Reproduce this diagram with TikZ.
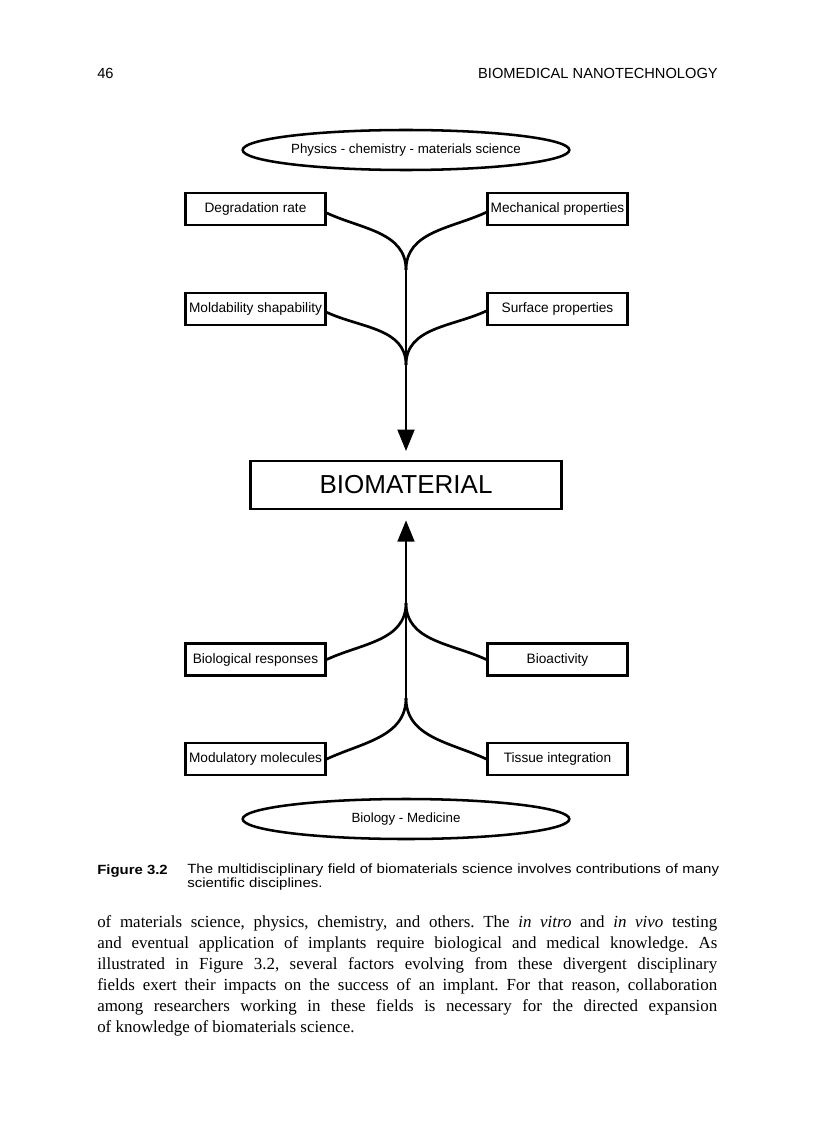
\documentclass[tikz,border=0pt]{standalone}
\usepackage{fontspec}
\setmainfont{Liberation Serif}
\setsansfont{Liberation Sans}
\usetikzlibrary{shapes.geometric,arrows.meta}

\begin{document}
\begin{tikzpicture}[x=0.75pt,y=-0.75pt,
every node/.style={font=\sffamily\fontsize{10.25}{12}\selectfont},
factor/.style={draw, line width=1.9pt, minimum width=105pt, minimum height=24pt, inner sep=2pt},
disciplina/.style={draw, ellipse, line width=1.9pt, inner sep=0pt, minimum width=245pt, minimum height=30pt, font=\sffamily\fontsize{10}{12}\selectfont},
nucleo/.style={draw, line width=1.9pt, minimum width=233pt, minimum height=36pt, font=\sffamily\fontsize{19.5}{22}\selectfont},
rama/.style={line width=2pt},
flecha/.style={line width=2pt, -{Triangle[length=16pt,width=12.5pt]}},
texto/.style={inner sep=0pt}
]
\useasboundingbox (0,0) rectangle (816,1123);
% Cabecera
\node[texto, anchor=base west, font=\sffamily\fontsize{11}{13}\selectfont] (pagina) at (97,79) {46};
\node[texto, anchor=base east, font=\sffamily\fontsize{11}{13}\selectfont] (cabecera) at (718,79) {BIOMEDICAL NANOTECHNOLOGY};
% Disciplinas
\node[disciplina] (fisica) at (406,150) {Physics - chemistry - materials science};
\node[disciplina] (biologia) at (406,819) {Biology - Medicine};
% Factores
\node[factor] (degradacion) at (255.5,209) {Degradation rate};
\node[factor] (mecanicas) at (557.5,209) {Mechanical properties};
\node[factor] (moldeo) at (255.5,309) {Moldability shapability};
\node[factor] (superficie) at (557.5,309) {Surface properties};
\node[factor] (respuestas) at (255.5,659.5) {Biological responses};
\node[factor] (bioactividad) at (557.5,659.5) {Bioactivity};
\node[factor] (moleculas) at (255.5,759) {Modulatory molecules};
\node[factor] (integracion) at (557.5,759) {Tissue integration};
% Biomaterial
\node[nucleo] (biomaterial) at (406,485) {BIOMATERIAL};
% Uniones
\coordinate (union1) at (406,270);
\coordinate (union2) at (406,365);
\coordinate (union3) at (406,603);
\coordinate (union4) at (406,698);
% Ramas
\draw[rama] ([yshift=-3pt]degradacion.east) to[out=-25,in=90] (union1);
\draw[rama] ([yshift=-2.5pt]mecanicas.west) to[out=-155,in=90] (union1);
\draw[rama] ([yshift=-2.5pt]moldeo.east) to[out=-25,in=90] (union2);
\draw[rama] ([yshift=-1.5pt]superficie.west) to[out=-155,in=90] (union2);
\draw[rama] (union3) to[out=-90,in=25] (respuestas.east);
\draw[rama] (union3) to[out=-90,in=155] (bioactividad.west);
\draw[rama] (union4) to[out=-90,in=25] (moleculas.east);
\draw[rama] (union4) to[out=-90,in=155] (integracion.west);
% Flechas
\draw[flecha] (union1) -- ([yshift=6.5pt]biomaterial.north);
\draw[flecha] (union4) -- ([yshift=-7.5pt]biomaterial.south);
% Leyenda
\node[texto, anchor=base west, font=\sffamily\bfseries\fontsize{10}{12}\selectfont\addfontfeature{FakeStretch=1.12}] (figura) at (97,874) {Figure 3.2};
\node[texto, anchor=north west, text width=425pt, align=left, font=\sffamily\fontsize{10}{10}\selectfont\addfontfeature{FakeStretch=1.125}] (leyenda) at (187,864) {The multidisciplinary field of biomaterials science involves contributions of many\\scientific disciplines.};
% Texto
\node[texto, anchor=north west, text width=465pt, align=justify, font=\rmfamily\fontsize{12.7}{15.75}\selectfont\frenchspacing] (parrafo) at (97,915) {of materials science, physics, chemistry, and others. The \textit{in vitro} and \textit{in vivo} testing\linebreak and eventual application of implants require biological and medical knowledge. As\linebreak illustrated in Figure 3.2, several factors evolving from these divergent disciplinary\linebreak fields exert their impacts on the success of an implant. For that reason, collaboration\linebreak among researchers working in these fields is necessary for the directed expansion\linebreak of knowledge of biomaterials science.};
\end{tikzpicture}
\end{document}
